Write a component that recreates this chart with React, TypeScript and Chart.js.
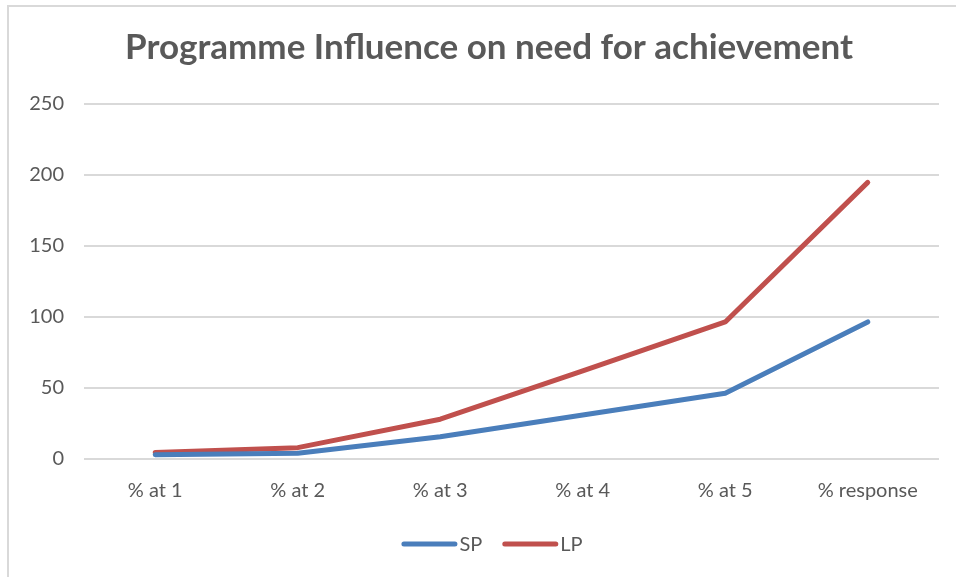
import React, { useEffect, useRef } from "react";
import { Chart, registerables } from "chart.js";

Chart.register(...registerables);

const categories = ["% at 1", "% at 2", "% at 3", "% at 4", "% at 5", "% response"];
const spValues = [3, 4, 15.7, 31, 46.3, 96.5];
const lpValues = [4.5, 8, 28, 62, 96.5, 194.8];
const yTicks = [0, 50, 100, 150, 200, 250];
const titleText = "Programme Influence on need for achievement";

const FONT = "Lato, 'Open Sans', sans-serif";
const TEXT = "#595959";
const GRID = "#d9d9d9";

const decorPlugin = {
  id: "decor",
  afterDraw(chart: any) {
    const ctx = chart.ctx as CanvasRenderingContext2D;
    ctx.save();
    // title
    ctx.fillStyle = TEXT;
    ctx.font = `bold 35px ${FONT}`;
    ctx.textAlign = "center";
    ctx.textBaseline = "middle";
    ctx.fillText(titleText, 489, 48);

    // legend
    ctx.font = `20px ${FONT}`;
    ctx.textAlign = "left";
    const lineLen = 56;
    const gap = 2;
    const itemGap = 20;
    const items = chart.data.datasets.map((d: any) => ({
      label: d.label as string,
      color: d.borderColor as string,
      w: lineLen + gap + ctx.measureText(d.label).width,
    }));
    const total = items.reduce((s: number, it: any) => s + it.w, 0) + itemGap * (items.length - 1);
    let x = 492 - total / 2;
    const y = 544;
    for (const it of items) {
      ctx.strokeStyle = it.color;
      ctx.lineWidth = 5;
      ctx.lineCap = "round";
      ctx.beginPath();
      ctx.moveTo(x + 2.5, y);
      ctx.lineTo(x + lineLen - 2.5, y);
      ctx.stroke();
      ctx.fillStyle = TEXT;
      ctx.fillText(it.label, x + lineLen + gap, y + 1);
      x += it.w + itemGap;
    }
    ctx.restore();
  },
};

export default function App() {
  const ref = useRef<HTMLCanvasElement | null>(null);

  useEffect(() => {
    if (!ref.current) return;
    const chart = new Chart(ref.current, {
      type: "line",
      data: {
        labels: categories,
        datasets: [
          {
            label: "SP",
            data: spValues,
            borderColor: "#4A7EBB",
            backgroundColor: "#4A7EBB",
            borderWidth: 5,
            borderCapStyle: "round",
            borderJoinStyle: "round",
            pointRadius: 0,
            tension: 0,
          },
          {
            label: "LP",
            data: lpValues,
            borderColor: "#C0504D",
            backgroundColor: "#C0504D",
            borderWidth: 5,
            borderCapStyle: "round",
            borderJoinStyle: "round",
            pointRadius: 0,
            tension: 0,
          },
        ],
      },
      plugins: [decorPlugin],
      options: {
        animation: false,
        responsive: false,
        maintainAspectRatio: false,
        layout: { padding: { left: 0, right: 17, top: 104, bottom: 54 } },
        plugins: {
          tooltip: { enabled: false },
          title: { display: false },
          legend: { display: false },
        },
        scales: {
          x: {
            offset: true,
            grid: { display: false, drawTicks: false, offset: true },
            border: { display: false },
            ticks: {
              color: TEXT,
              font: { family: FONT, size: 20 },
              padding: 20,
              maxRotation: 0,
              autoSkip: false,
            },
          },
          y: {
            min: 0,
            max: 250,
            afterBuildTicks: (scale: any) => {
              scale.ticks = yTicks.map((v) => ({ value: v }));
            },
            afterFit: (scale: any) => {
              scale.width = 84;
            },
            grid: { color: GRID, lineWidth: 2, drawTicks: false },
            border: { display: false },
            ticks: {
              color: TEXT,
              font: { family: FONT, size: 20 },
              padding: 20,
            },
          },
        },
      },
    });
    return () => chart.destroy();
  }, []);

  return (
    <div style={{ position: "fixed", left: 0, top: 0, width: 956, height: 577, background: "#fff" }}>
      <div
        style={{
          position: "absolute",
          left: 7,
          top: 5,
          width: 1000,
          height: 1000,
          borderLeft: "2px solid #d9d9d9",
          borderTop: "2px solid #d9d9d9",
        }}
      />
      <canvas ref={ref} width={956} height={577} style={{ position: "absolute", left: 0, top: 0 }} />
    </div>
  );
}
